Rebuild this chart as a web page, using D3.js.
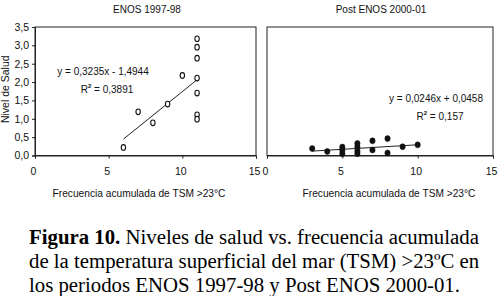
<!DOCTYPE html>
<html>
<head>
<meta charset="utf-8">
<script src="https://cdn.jsdelivr.net/npm/d3@7"></script>
<style>
  body { margin: 0; background: #fff; }
  svg { display: block; }
  text { font-family: "Liberation Sans", Arial, sans-serif; fill: #111; }
  .caption { font-family: "Liberation Serif", "Times New Roman", serif; font-size: 20.8px; fill: #000; }
</style>
</head>
<body>
<div id="wrapper"></div>
<script>
// data
const enosTitle = "ENOS 1997-98"
const enosX = [6, 7, 8, 9, 10, 11, 11, 11, 11, 11, 11, 11]
const enosY = [0.22, 1.19, 0.89, 1.40, 2.18, 3.18, 2.95, 2.65, 2.11, 1.70, 1.11, 0.99]
const enosFit = [0.3235, -1.4944]   // slope, intercept
const enosFitRange = [6, 11]
const enosEq = ["y = 0,3235x - 1,4944", "0,3891"]

const postTitle = "Post ENOS 2000-01"
const postX = [3, 4, 5, 5, 5, 6, 6, 6, 6, 7, 7, 8, 8, 9, 10]
const postY = [0.19, 0.11, 0.23, 0.15, 0.05, 0.33, 0.23, 0.12, 0.05, 0.40, 0.15, 0.46, 0.07, 0.24, 0.29]
const postFit = [0.0246, 0.0458]
const postFitRange = [3, 10]
const postEq = ["y = 0,0246x + 0,0458", "0,157"]

const xTicks = [0, 5, 10, 15]
const yTicks = [0, 0.5, 1, 1.5, 2, 2.5, 3, 3.5]
const xLabel = "Frecuencia acumulada de TSM >23°C"
const yLabel = "Nivel de Salud"
const captionLines = [
  ["Figura 10.", " Niveles de salud vs. frecuencia acumulada"],
  ["", "de la temperatura superficial del mar (TSM) >23ºC en"],
  ["", "los periodos ENOS 1997-98 y Post ENOS 2000-01."],
]

const fmt = d => d3.format(".1f")(d).replace(".", ",")

const svg = d3.select("#wrapper")
  .append("svg")
    .attr("width", 500)
    .attr("height", 296)

const plotTop = 27, plotBottom = 155.5

function drawPanel(opts) {
  const xScale = d3.scaleLinear().domain([0, 15]).range([opts.left, opts.right])
  const yScale = d3.scaleLinear().domain([0, 3.5]).range([plotBottom, plotTop])

  const g = svg.append("g")

  // frame
  g.append("rect")
      .attr("x", opts.left)
      .attr("y", plotTop)
      .attr("width", opts.right - opts.left)
      .attr("height", plotBottom - plotTop)
      .attr("fill", "none")
      .attr("stroke", "#222")
      .attr("stroke-width", 1)

  // x axis
  const xAxis = g.append("g")
      .attr("transform", `translate(0,${plotBottom})`)
    .call(d3.axisBottom(xScale).tickValues(xTicks).tickSize(3).tickPadding(9).tickFormat(d3.format("d")))
  xAxis.select(".domain").attr("stroke", "#222")
  xAxis.selectAll("line").attr("stroke", "#222")
  xAxis.selectAll("text")
      .attr("font-size", 10.5)
      .attr("font-family", "Liberation Sans, Arial, sans-serif")
      .attr("fill", "#111")
      .attr("dx", -2)

  // y axis
  if (opts.yAxis) {
    const yAxis = g.append("g")
        .attr("transform", `translate(${opts.left},0)`)
      .call(d3.axisLeft(yScale).tickValues(yTicks).tickSize(3).tickPadding(3).tickFormat(fmt))
    yAxis.select(".domain").attr("stroke", "#222")
    yAxis.selectAll("line").attr("stroke", "#222")
    yAxis.selectAll("text")
        .attr("font-size", 10.5)
        .attr("font-family", "Liberation Sans, Arial, sans-serif")
        .attr("fill", "#111")

    g.append("text")
        .attr("transform", `translate(9,${(plotTop + plotBottom) / 2 - 2}) rotate(-90)`)
        .attr("text-anchor", "middle")
        .attr("font-size", 10.5)
        .text(yLabel)
  }

  // titles
  g.append("text")
      .attr("x", opts.titleX)
      .attr("y", 13)
      .attr("text-anchor", "middle")
      .attr("font-size", 10)
      .text(opts.title)

  g.append("text")
      .attr("x", opts.labelX)
      .attr("y", 196.5)
      .attr("text-anchor", "middle")
      .attr("font-size", 10.2)
      .text(xLabel)

  // trend line
  const fitLine = d3.line()
    .x(d => xScale(d))
    .y(d => yScale(opts.fit[0] * d + opts.fit[1]))
  g.append("path")
      .attr("d", fitLine(opts.fitRange))
      .attr("fill", "none")
      .attr("stroke", "#222")
      .attr("stroke-width", 1)

  // points
  const pts = d3.zip(opts.xs, opts.ys)
  g.selectAll(".pt")
    .data(pts)
    .join("ellipse")
      .attr("class", "pt")
      .attr("cx", d => xScale(d[0]))
      .attr("cy", d => yScale(d[1]))
      .attr("rx", opts.filled ? 2.7 : 2.2)
      .attr("ry", opts.filled ? 3 : 2.8)
      .attr("fill", opts.filled ? "#111" : "#fff")
      .attr("stroke", "#111")
      .attr("stroke-width", opts.filled ? 0.5 : 1.1)

  // equation
  g.append("text")
      .attr("x", opts.eqX)
      .attr("y", opts.eqY)
      .attr("text-anchor", "middle")
      .attr("font-size", 10)
      .text(opts.eq[0])
  const r2 = g.append("text")
      .attr("x", opts.eqX + 4)
      .attr("y", opts.eqY + 18)
      .attr("text-anchor", "middle")
      .attr("font-size", 10)
  r2.append("tspan").text("R")
  r2.append("tspan").attr("dy", -5).attr("font-size", 6).attr("font-weight", "bold").text("2")
  r2.append("tspan").attr("dy", 5).text(" = " + opts.eq[1])
}

drawPanel({
  left: 35, right: 256, yAxis: true, title: enosTitle, titleX: 147, labelX: 139,
  xs: enosX, ys: enosY, fit: enosFit, fitRange: enosFitRange, filled: false,
  eq: enosEq, eqX: 103, eqY: 75,
})

drawPanel({
  left: 267, right: 493, yAxis: false, title: postTitle, titleX: 381, labelX: 389,
  xs: postX, ys: postY, fit: postFit, fitRange: postFitRange, filled: true,
  eq: postEq, eqX: 436, eqY: 102,
})

// caption
const caption = svg.append("g")
captionLines.forEach((line, i) => {
  const t = caption.append("text")
      .attr("class", "caption")
      .attr("x", 29)
      .attr("y", 244 + i * 23.8)
  if (line[0]) t.append("tspan").attr("font-weight", "bold").text(line[0])
  t.append("tspan").text(line[1])
})
</script>
</body>
</html>
